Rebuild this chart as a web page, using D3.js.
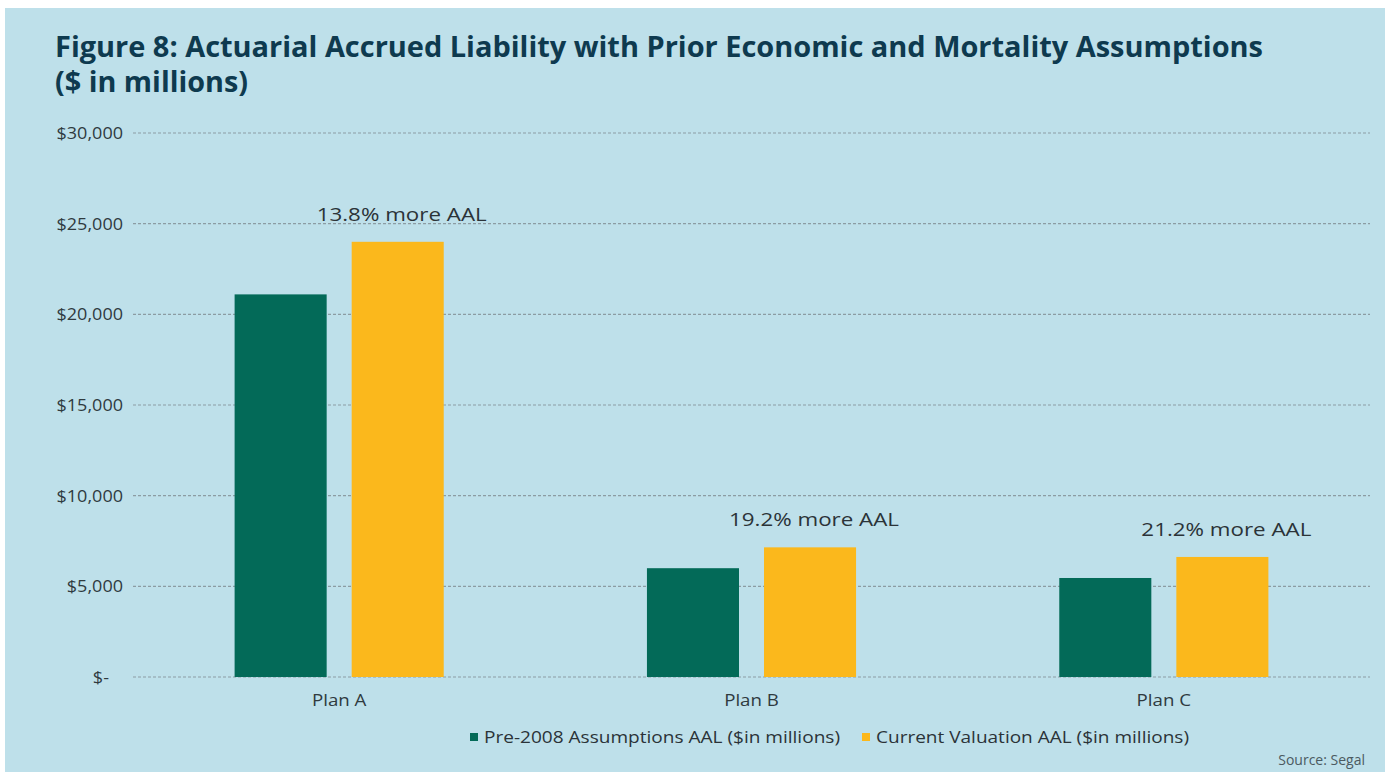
<!DOCTYPE html>
<html>
<head>
<meta charset="utf-8">
<script src="https://cdn.jsdelivr.net/npm/d3@7"></script>
<style>
  body { margin: 0; background: #ffffff; }
  text { font-family: "Open Sans", "Noto Sans", sans-serif; }
</style>
</head>
<body>
<div id="chart"></div>
<script>
const plans = ['Plan A', 'Plan B', 'Plan C'];
const series = ['Pre-2008 Assumptions AAL ($in millions)', 'Current Valuation AAL ($in millions)'];
const pre2008 = [21100, 6000, 5460];
const current = [24000, 7150, 6620];
const notes = ['13.8% more AAL', '19.2% more AAL', '21.2% more AAL'];
const yTicks = [0, 5000, 10000, 15000, 20000, 25000, 30000];
const yTickLabels = ['$-\u00a0\u00a0\u00a0', '$5,000', '$10,000', '$15,000', '$20,000', '$25,000', '$30,000'];

const colors = ['#036a58', '#fbb81c'];

const W = 1390, H = 772;
const svg = d3.select('#chart').append('svg')
    .attr('width', W)
    .attr('height', H);

svg.append('rect')
    .attr('x', 5).attr('y', 8)
    .attr('width', 1380).attr('height', H - 8)
    .attr('fill', '#bee0ea');

// fit a text to a measured width without changing its height
function fit(sel, w) {
  sel.attr('textLength', w).attr('lengthAdjust', 'spacingAndGlyphs');
}
// widen a text by a factor (the original face is wider than Open Sans)
function widen(sel, k) {
  sel.each(function() {
    const len = this.getComputedTextLength();
    d3.select(this).attr('textLength', len * k).attr('lengthAdjust', 'spacingAndGlyphs');
  });
}

svg.append('text')
    .attr('x', 55).attr('y', 57)
    .attr('fill', '#0e3a4f')
    .style('font-size', '28px')
    .style('font-weight', 700)
    .call(fit, 1208)
    .text('Figure 8: Actuarial Accrued Liability with Prior Economic and Mortality Assumptions');

svg.append('text')
    .attr('x', 55).attr('y', 92)
    .attr('fill', '#0e3a4f')
    .style('font-size', '28px')
    .style('font-weight', 700)
    .call(fit, 193)
    .text('($ in millions)');

const x0 = d3.scaleBand().domain(plans).range([133, 1370]);
const x1 = d3.scaleBand().domain(series).range([0, x0.bandwidth()])
    .paddingInner(0.2137).paddingOuter(0.868);
const y = d3.scaleLinear().domain([0, 30000]).range([677, 133]);

// gridlines
svg.append('g')
  .selectAll('line')
  .data(yTicks)
  .enter().append('line')
    .attr('x1', 133).attr('x2', 1370)
    .attr('y1', d => y(d)).attr('y2', d => y(d))
    .attr('stroke', '#8c9ca3')
    .attr('stroke-width', 1.2)
    .attr('stroke-dasharray', '3,2');

const yAxis = svg.append('g')
    .attr('transform', 'translate(123,0)')
    .call(d3.axisLeft(y).tickValues(yTicks).tickSize(0).tickPadding(0)
      .tickFormat((d, i) => yTickLabels[i]));
yAxis.select('.domain').remove();
yAxis.selectAll('text')
    .attr('fill', '#2f3a3f')
    .style('font-size', '17px')
    .style('font-family', '"Open Sans", sans-serif')
    .call(widen, 1.06);

const groups = svg.append('g')
  .selectAll('g')
  .data(plans)
  .enter().append('g')
    .attr('transform', d => 'translate(' + x0(d) + ',0)');

groups.selectAll('rect')
    .data((d, i) => [pre2008[i], current[i]].map((v, j) => ({key: series[j], value: v, j: j})))
  .enter().append('rect')
    .attr('x', d => x1(d.key))
    .attr('width', x1.bandwidth())
    .attr('y', d => y(d.value))
    .attr('height', d => y(0) - y(d.value))
    .attr('fill', d => colors[d.j]);

groups.append('text')
    .attr('x', (d, i) => x1(series[1]) + x1.bandwidth() / 2 + 4)
    .attr('y', (d, i) => y(current[i]) - 21)
    .attr('text-anchor', 'middle')
    .attr('fill', '#2b3338')
    .style('font-size', '18px')
    .call(fit, 170)
    .text((d, i) => notes[i]);

const xAxis = svg.append('g')
    .attr('transform', 'translate(0,677)')
    .call(d3.axisBottom(x0).tickSize(0).tickPadding(0));
xAxis.select('.domain').remove();
xAxis.selectAll('text')
    .attr('dy', '29px')
    .attr('fill', '#2f3a3f')
    .style('font-size', '17px')
    .style('font-family', '"Open Sans", sans-serif')
    .call(widen, 1.1);

// legend
const legendX = [470, 862], legendW = [356, 313];
const legend = svg.append('g')
  .selectAll('g')
  .data(series)
  .enter().append('g')
    .attr('transform', (d, i) => 'translate(' + legendX[i] + ',737)');
legend.append('rect')
    .attr('x', 0).attr('y', -4)
    .attr('width', 8).attr('height', 8)
    .attr('fill', (d, i) => colors[i]);
legend.append('text')
    .attr('x', 14).attr('y', 6)
    .attr('fill', '#2b3338')
    .style('font-size', '16px')
    .each(function(d, i) { d3.select(this).call(fit, legendW[i]); })
    .text(d => d);

svg.append('text')
    .attr('x', 1365).attr('y', 765)
    .attr('text-anchor', 'end')
    .attr('fill', '#4b5a61')
    .style('font-size', '14px')
    .text('Source: Segal');
</script>
</body>
</html>
